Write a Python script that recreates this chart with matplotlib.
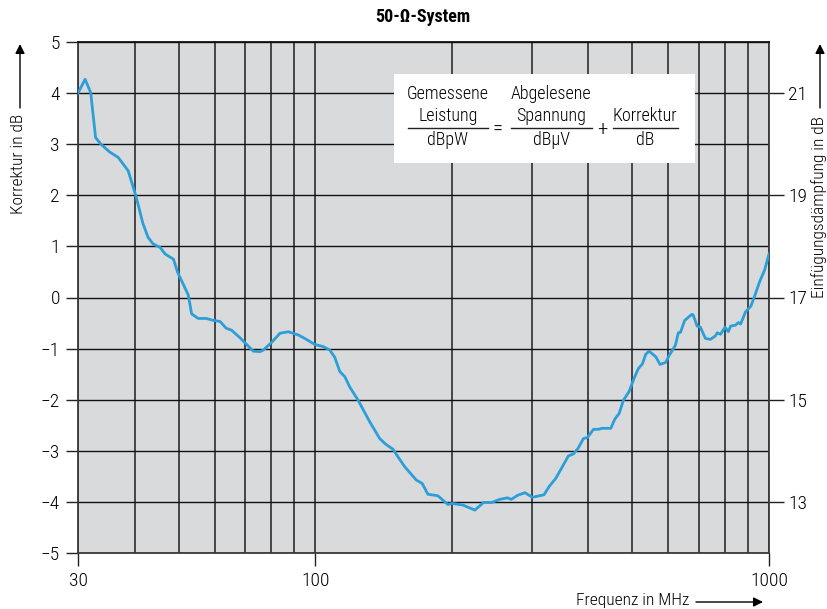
import matplotlib
matplotlib.use("Agg")
import matplotlib.pyplot as plt
from matplotlib.patches import FancyArrowPatch, Rectangle
from matplotlib.lines import Line2D
from matplotlib.ticker import FixedLocator, NullFormatter

plt.rcParams['font.family'] = ['Roboto Condensed', 'IBM Plex Sans Condensed', 'DejaVu Sans']
plt.rcParams['font.weight'] = 'light'

# Korrekturkurve, 50-Ohm-System
freq_mhz = [
    30.0, 31.1, 32.0, 32.8, 33.7, 35.2, 36.8, 38.7, 40.3, 41.7, 42.8, 43.9,
    45.5, 46.7, 48.7, 49.7, 52.5, 53.4, 55.2, 57.6, 59.1, 61.7, 63.6, 65.4,
    68.3, 73.0, 75.5, 76.8, 80.1, 83.6, 87.2, 91.6, 95.2, 99.8, 104.1, 107.7,
    110.4, 113.3, 116.2, 119.1, 124.3, 131.8, 138.7, 142.9, 148.4, 152.2,
    157.4, 166.9, 172.1, 177.1, 186.3, 196.0, 200.1, 211.2, 224.8, 235.0,
    245.0, 255.2, 265.1, 270.4, 279.4, 289.8, 301.0, 319.3, 327.6, 338.9,
    350.5, 361.3, 370.7, 379.6, 390.0, 398.0, 410.3, 420.2, 429.4, 448.1,
    457.3, 467.4, 477.7, 491.7, 504.3, 515.4, 526.0, 535.1, 544.1, 563.0,
    575.3, 592.1, 602.0, 621.5, 631.3, 638.3, 651.8, 675.8, 680.3, 694.4,
    705.8, 724.1, 743.0, 762.3, 769.0, 782.1, 800.0, 813.5, 823.0, 844.1,
    855.6, 865.7, 887.8, 912.2, 929.0, 953.6, 978.2, 1000.0,
]
korrektur_db = [
    4.00, 4.27, 4.01, 3.13, 3.00, 2.85, 2.74, 2.48, 1.97, 1.45, 1.18, 1.05,
    0.98, 0.85, 0.75, 0.50, 0.05, -0.32, -0.41, -0.41, -0.44, -0.47, -0.60, -0.64,
    -0.79, -1.05, -1.06, -1.03, -0.88, -0.70, -0.67, -0.73, -0.81, -0.92, -0.96, -1.03,
    -1.17, -1.45, -1.55, -1.75, -2.01, -2.43, -2.76, -2.87, -2.97, -3.12,
    -3.31, -3.57, -3.64, -3.85, -3.88, -4.05, -4.03, -4.06, -4.16, -4.01,
    -4.01, -3.95, -3.92, -3.95, -3.87, -3.82, -3.91, -3.86, -3.70, -3.54,
    -3.31, -3.10, -3.06, -2.95, -2.76, -2.74, -2.58, -2.58, -2.56, -2.56,
    -2.38, -2.27, -2.01, -1.84, -1.58, -1.39, -1.30, -1.11, -1.05, -1.16,
    -1.31, -1.27, -1.14, -0.94, -0.69, -0.68, -0.45, -0.33, -0.34, -0.56,
    -0.58, -0.80, -0.82, -0.75, -0.69, -0.72, -0.58, -0.67, -0.56, -0.54,
    -0.49, -0.52, -0.28, -0.17, 0.02, 0.31, 0.54, 0.85,
]

x_major = [30, 100, 1000]
x_minor = [40, 50, 60, 70, 80, 90, 200, 300, 400, 500, 600, 700, 800, 900]
y_left = [-5, -4, -3, -2, -1, 0, 1, 2, 3, 4, 5]
y_left_labels = ['\u22125', '\u22124', '\u22123', '\u22122', '\u22121',
                 '0', '1', '2', '3', '4', '5']
daempfung_offset = 17
y_right = [13, 15, 17, 19, 21]


def fx(px):
    return px / 827


def fy(py):
    return 1 - py / 609


fig = plt.figure(figsize=(8.27, 6.09), dpi=100)
ax = fig.add_axes([fx(78), fy(553), fx(769) - fx(78), fy(42) - fy(553)])
ax.set_facecolor('#d9dadc')

ax.plot(freq_mhz, korrektur_db, color='#2c9ed8', lw=2.0, zorder=3,
        solid_joinstyle='round')

ax.set_xscale('log')
ax.set_xlim(30, 1000)
ax.set_ylim(-5, 5)
ax.xaxis.set_major_locator(FixedLocator(x_major))
ax.xaxis.set_minor_locator(FixedLocator(x_minor))
ax.xaxis.set_minor_formatter(NullFormatter())
ax.set_xticklabels([str(v) for v in x_major])
ax.set_yticks(y_left)
ax.set_yticklabels(y_left_labels)

ax.grid(True, which='both', axis='x', color='#3a3a3a', lw=1.3, zorder=1)
ax.grid(True, which='major', axis='y', color='#111111', lw=1.0, zorder=1)
ax.set_axisbelow(True)

ax.tick_params(axis='both', which='major', direction='out', length=9,
               width=1.0, color='#222222', labelsize=14, pad=4)
ax.tick_params(axis='x', which='minor', length=0)
ax.tick_params(axis='x', which='major', pad=5)
for sp in ax.spines.values():
    sp.set_color('#3a3a3a')
    sp.set_linewidth(1.3)
ax.spines['top'].set_color('#111111')

# rechte Achse: Einfügungsdämpfung
ax2 = ax.twinx()
ax2.set_ylim(-5 + daempfung_offset, 5 + daempfung_offset)
ax2.set_yticks(y_right)
ax2.set_yticklabels([str(v) for v in y_right])
ax2.tick_params(axis='y', direction='out', length=11, width=1.0,
                color='#222222', labelsize=14, pad=3)
for sp in ax2.spines.values():
    sp.set_visible(False)

fig.text(fx(423), fy(17), '50-\u03a9-System', ha='center', va='center',
         fontsize=13, fontweight='bold')

# Achsenbeschriftungen mit Pfeilen
arrow = dict(arrowstyle='-|>', color='black', lw=1.0, mutation_scale=14,
             shrinkA=0, shrinkB=0, transform=fig.transFigure)
lab_fs = 12.5
fig.text(fx(19), fy(114), 'Korrektur in dB', rotation=90,
         ha='center', va='top', fontsize=lab_fs)
fig.add_artist(FancyArrowPatch((fx(20), fy(108)), (fx(20), fy(44)), **arrow))

fig.text(fx(819), fy(116), 'Einfügungsdämpfung in dB', rotation=90,
         ha='center', va='top', fontsize=lab_fs)
fig.add_artist(FancyArrowPatch((fx(820), fy(108)), (fx(820), fy(44)), **arrow))

fig.text(fx(689), fy(600), 'Frequenz in MHz', ha='right',
         va='center', fontsize=lab_fs)
fig.add_artist(FancyArrowPatch((fx(696), fy(602)), (fx(763), fy(602)), **arrow))

# Formelkasten
fig.add_artist(Rectangle((fx(394), fy(163)), fx(695) - fx(394), fy(74) - fy(163),
                         transform=fig.transFigure, facecolor='white',
                         edgecolor='none', zorder=5))

fs = 13
fractions = [
    (448, ['Gemessene', 'Leistung'], 'dBpW', 408, 488),
    (551, ['Abgelesene', 'Spannung'], 'dB\u00b5V', 511, 592),
    (645, ['Korrektur'], 'dB', 613, 678),
]
for cx, top_lines, bottom, x0, x1 in fractions:
    for i, line in enumerate(reversed(top_lines)):
        fig.text(fx(cx), fy(116 - 22 * i), line, ha='center', va='center',
                 fontsize=fs, zorder=6)
    fig.text(fx(cx), fy(140), bottom, ha='center', va='center', fontsize=fs,
             zorder=6)
    fig.add_artist(Line2D([fx(x0), fx(x1)], [fy(128), fy(128)],
                          transform=fig.transFigure, color='#222222',
                          lw=1.0, zorder=6))
fig.text(fx(498), fy(129), '=', ha='center', va='center', fontsize=15, zorder=6)
fig.text(fx(602), fy(129), '+', ha='center', va='center', fontsize=15, zorder=6)

fig.savefig('out.png', dpi=100)
